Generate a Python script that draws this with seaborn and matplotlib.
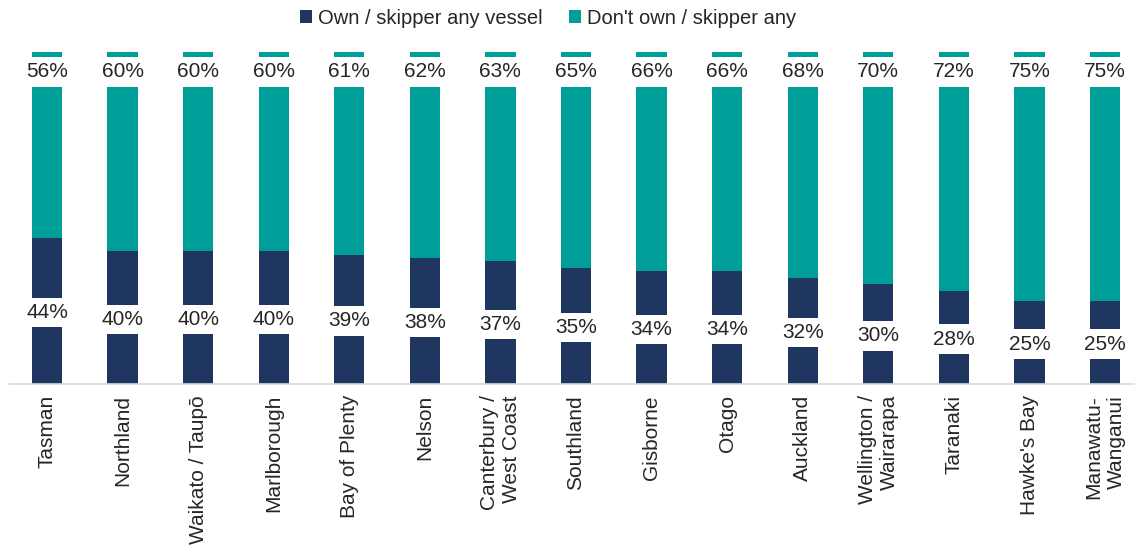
import numpy as np
import pandas as pd
import matplotlib
matplotlib.use("Agg")
import matplotlib.pyplot as plt
import seaborn as sns

# -------------------
# Data
# -------------------
regions = ["Tasman", "Northland", "Waikato / Taupō", "Marlborough", "Bay of Plenty",
           "Nelson", "Canterbury /\nWest Coast", "Southland", "Gisborne", "Otago",
           "Auckland", "Wellington /\nWairarapa", "Taranaki", "Hawke's Bay",
           "Manawatu-\nWanganui"]
own = [44, 40, 40, 40, 39, 38, 37, 35, 34, 34, 32, 30, 28, 25, 25]
dont_own = [56, 60, 60, 60, 61, 62, 63, 65, 66, 66, 68, 70, 72, 75, 75]

navy = "#1F3660"
teal = "#009E99"

df = pd.DataFrame({"Region": regions, "Own": own, "DontOwn": dont_own})
df["Total"] = df["Own"] + df["DontOwn"]

# -------------------
# Plot
# -------------------
sns.set_theme(style="white")
plt.rcParams["font.family"] = ["Liberation Sans", "DejaVu Sans"]

fig = plt.figure(figsize=(11.35, 5.56), dpi=100)
ax = fig.add_axes([9.2 / 1135, 172 / 556, 1126 / 1135, 332 / 556])

sns.barplot(data=df, x="Region", y="Total", color=teal, width=0.4,
            saturation=1, linewidth=0, ax=ax, label="Don't own / skipper any")
sns.barplot(data=df, x="Region", y="Own", color=navy, width=0.4,
            saturation=1, linewidth=0, ax=ax, label="Own / skipper any vessel")

box = dict(boxstyle="square,pad=0.25", facecolor="white", edgecolor="none")
for i, (o, t) in enumerate(zip(df["Own"], df["Total"])):
    ax.text(i, o / 2 - 0.5, f"{o}%", ha="center", va="center", fontsize=15,
            color="#262626", bbox=box)
    ax.text(i, t - 6, f"{t - o}%", ha="center", va="center", fontsize=15,
            color="#262626", bbox=box)

ax.set_xlim(-0.5, 14.4)
ax.set_ylim(0, 100)
ax.set_xlabel("")
ax.set_ylabel("")
ax.set_yticks([])
ax.tick_params(axis="x", length=0, pad=8)
for lbl in ax.get_xticklabels():
    lbl.set_rotation(90)
    lbl.set_ha("center")
    lbl.set_va("top")
    lbl.set_multialignment("right")
    lbl.set_fontsize(15)
    lbl.set_color("#262626")

for s in ["top", "left", "right"]:
    ax.spines[s].set_visible(False)
ax.spines["bottom"].set_color("#D9D9D9")
ax.spines["bottom"].set_linewidth(1.2)

handles, labels = ax.get_legend_handles_labels()
order = [1, 0]
fig.legend([handles[k] for k in order], [labels[k] for k in order],
           loc="center", bbox_to_anchor=(0.483, 1 - 18 / 556), ncol=2,
           frameon=False, fontsize=14.5, handlelength=0.6, handleheight=0.6,
           handletextpad=0.3, columnspacing=1.3, labelcolor="#262626")
if ax.get_legend() is not None:
    ax.get_legend().remove()

fig.savefig("out.png", dpi=100)
